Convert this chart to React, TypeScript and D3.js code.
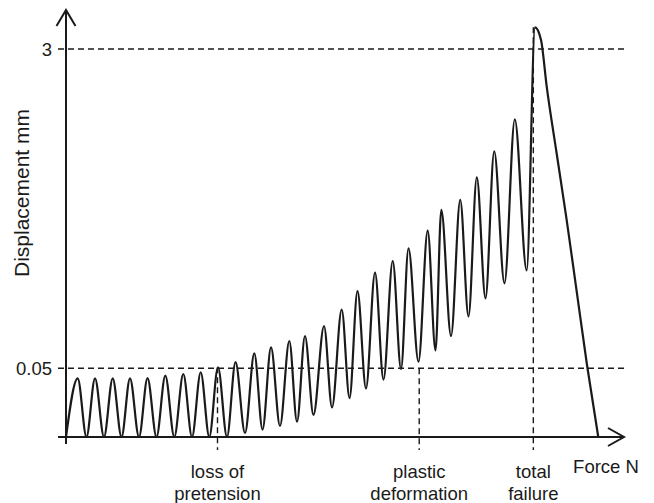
import React from "react";
import * as d3 from "d3";

// force (arbitrary units 0-100) and displacement (mm) along the cyclic test
const force = [
  0, 2.1, 3.67, 5.2, 6.81, 8.37, 9.95, 11.47, 13.08, 14.61, 16.22, 17.8, 19.41,
  21.02, 22.58, 24.14, 25.68, 27.24, 28.85, 30.38, 32.08, 33.75, 35.22, 36.74,
  38.35, 40.02, 41.4, 42.83, 44.35, 46.24, 47.67, 49.41, 50.81, 52.24, 53.76,
  55.38, 56.9, 58.55, 60.04, 61.38, 63.17, 64.82, 66.22, 67.26, 69.0, 70.65,
  72.13, 73.62, 75.18, 76.74, 78.58, 80.43, 82.56, 84.05, 85.13, 86.15, 87.92,
  89.73, 91.49, 93.37, 95.39,
];
const displacement = [
  0, 0.0401, 0, 0.0401, 0, 0.0401, 0, 0.0401, 0, 0.0403, 0, 0.0426, 0,
  0.0442, 0, 0.0459, 0, 0.051, 0, 0.0566, 0.002, 0.0665, 0.0038, 0.074,
  0.0057, 0.0827, 0.0081, 0.0898, 0.0122, 0.1053, 0.017, 0.1348, 0.0237,
  0.1748, 0.0312, 0.2232, 0.039, 0.2595, 0.0492, 0.3046, 0.057, 0.3782,
  0.0702, 0.485, 0.0898, 0.5458, 0.1216, 0.7093, 0.158, 0.9576, 0.194, 1.374,
  0.2297, 3.81, 3.314, 1.978, 0.939, 0.43, 0.177, 0.0534, 0,
];

// reference levels on the displacement axis
const levelValues = [0.05, 3];
const levelLabels = ["0.05", "3"];

// events marked on the force axis
const eventForce = [27.15, 63.3, 83.75];
const eventTop = [0.051, 0.05, 3.81];
const eventLabels = [
  ["loss of", "pretension"],
  ["plastic", "deformation"],
  ["total", "failure"],
];

const W = 654;
const H = 503;
const font = "'Liberation Sans', Arial, Helvetica, sans-serif";
const ink = "#1a1a1a";

const App = () => {
  const x = d3.scaleLinear().domain([0, 100]).range([66, 624]);
  const y = d3.scaleSymlog().constant(0.045).domain([0, 3]).range([437, 49]);

  const line = d3
    .line<number>()
    .x((d, i) => x(force[i]))
    .y((d) => y(d))
    .curve(d3.curveMonotoneX);

  const x0 = x(0);
  const y0 = y(0);
  const xEnd = x(100);

  return (
    <svg
      width={W}
      height={H}
      style={{ position: "absolute", left: 0, top: 0, background: "#fff" }}
      fontFamily={font}
    >
      {/* reference levels */}
      {levelValues.map((v, i) => (
        <g key={"lv" + i}>
          <line
            x1={x0 - 8}
            x2={xEnd + 1}
            y1={y(v)}
            y2={y(v)}
            stroke={ink}
            strokeWidth={1.4}
            strokeDasharray="6,4"
          />
          <text
            x={x0 - 14}
            y={y(v)}
            dy="0.36em"
            textAnchor="end"
            fontSize={18.5}
            fill={ink}
          >
            {levelLabels[i]}
          </text>
        </g>
      ))}

      {/* event guides */}
      {eventForce.map((f, i) => (
        <g key={"ev" + i}>
          <line
            x1={x(f)}
            x2={x(f)}
            y1={y(eventTop[i])}
            y2={y0 + 13}
            stroke={ink}
            strokeWidth={1.4}
            strokeDasharray="6,4"
          />
          {eventLabels[i].map((t, j) => (
            <text
              key={j}
              x={x(f)}
              y={y0 + 41 + j * 22}
              textAnchor="middle"
              fontSize={18.5}
              fill={ink}
            >
              {t}
            </text>
          ))}
        </g>
      ))}

      {/* curve */}
      <path
        d={line(displacement) || ""}
        fill="none"
        stroke={ink}
        strokeWidth={2.2}
        strokeLinejoin="round"
      />

      {/* axes */}
      <line x1={x0} x2={x0} y1={y0 + 7} y2={10} stroke={ink} strokeWidth={2} />
      <polyline
        points={`${x0 - 9.5},26 ${x0},10 ${x0 + 9.5},26`}
        fill="none"
        stroke={ink}
        strokeWidth={2}
      />
      <line x1={x0 - 8} x2={xEnd} y1={y0} y2={y0} stroke={ink} strokeWidth={2} />
      <polyline
        points={`${xEnd - 16},${y0 - 9} ${xEnd},${y0} ${xEnd - 16},${y0 + 9}`}
        fill="none"
        stroke={ink}
        strokeWidth={2}
      />

      <text x={606} y={y0 + 36} textAnchor="middle" fontSize={18.5} fill={ink}>
        Force N
      </text>
      <text
        transform={`translate(29,${193}) rotate(-90)`}
        textAnchor="middle"
        fontSize={21}
        fill={ink}
      >
        Displacement mm
      </text>
    </svg>
  );
};

export default App;
